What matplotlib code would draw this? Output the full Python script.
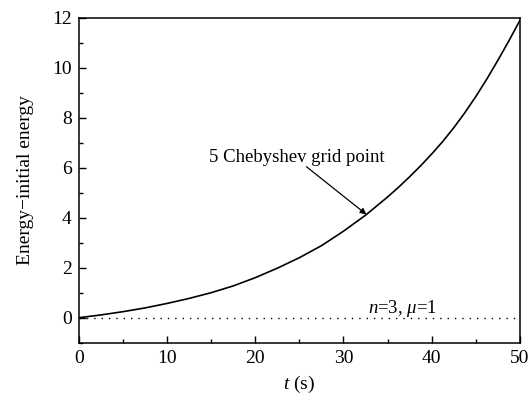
import numpy as np
import matplotlib
matplotlib.use("Agg")
import matplotlib.pyplot as plt

plt.rcParams['font.family'] = ['Liberation Serif', 'DejaVu Serif']
plt.rcParams['mathtext.fontset'] = 'custom'
plt.rcParams['mathtext.it'] = 'Liberation Serif:italic'
plt.rcParams['mathtext.rm'] = 'Liberation Serif'

# energy drift
t = [0, 2.5, 5, 7.5, 10, 12.5, 15, 17.5, 20, 22.5, 25, 27.5, 30, 32.5, 35,
     36.25, 37.5, 38.75, 40, 41.25, 42.5, 43.75, 45, 46.25, 47.5, 48.75, 50]
energy = [0.0, 0.11, 0.24, 0.39, 0.57, 0.77, 1.00, 1.27, 1.60, 1.98, 2.40,
          2.88, 3.46, 4.10, 4.83, 5.22, 5.64, 6.08, 6.55, 7.05, 7.6, 8.2,
          8.85, 9.55, 10.3, 11.08, 11.9]
t_ref = [0, 50]
zero_ref = [0, 0]

fig = plt.figure(figsize=(5.31, 3.98), dpi=100)
ax = fig.add_axes([78.7/531, 1 - 342.7/398, 441.3/531, 325/398])

ax.plot(t, energy, color='black', lw=1.2)
ax.plot(t_ref, zero_ref, color='black', lw=1.0, ls=(0, (1, 4.3)))

ax.set_xlim(0, 50)
ax.set_ylim(-1, 12)
ax.set_xticks([0, 10, 20, 30, 40, 50])
ax.set_xticks([5, 15, 25, 35, 45], minor=True)
ax.set_yticks([0, 2, 4, 6, 8, 10, 12])
ax.set_yticks([-1, 1, 3, 5, 7, 9, 11], minor=True)
ax.tick_params(which='both', direction='in', labelsize=14, width=1.0)
ax.tick_params(which='major', length=5)
ax.tick_params(which='minor', length=3)
ax.tick_params(axis='x', which='major', pad=5)
ax.tick_params(axis='y', which='major', pad=5)
for s in ax.spines.values():
    s.set_linewidth(1.1)

ax.set_xlabel(r'$t$ (s)', fontsize=14, labelpad=5)
ax.set_ylabel('Energy\u2212initial energy', fontsize=14)
ax.yaxis.set_label_coords(-0.101, 0.5)

# label and arrow pointing at the curve
ax.text(24.7, 6.4, '5 Chebyshev grid point', ha='center', va='center',
        fontsize=13.5)
ax.annotate('', xy=(32.6, 4.13), xytext=(25.8, 6.04),
            arrowprops=dict(arrowstyle='-|>', color='black', lw=0.9,
                            shrinkA=0, shrinkB=0, mutation_scale=9))
ax.text(32.8, 0.2, r'$n$=3, $\mu$=1', ha='left', va='baseline', fontsize=13.5)

fig.savefig('out.png', dpi=100)
